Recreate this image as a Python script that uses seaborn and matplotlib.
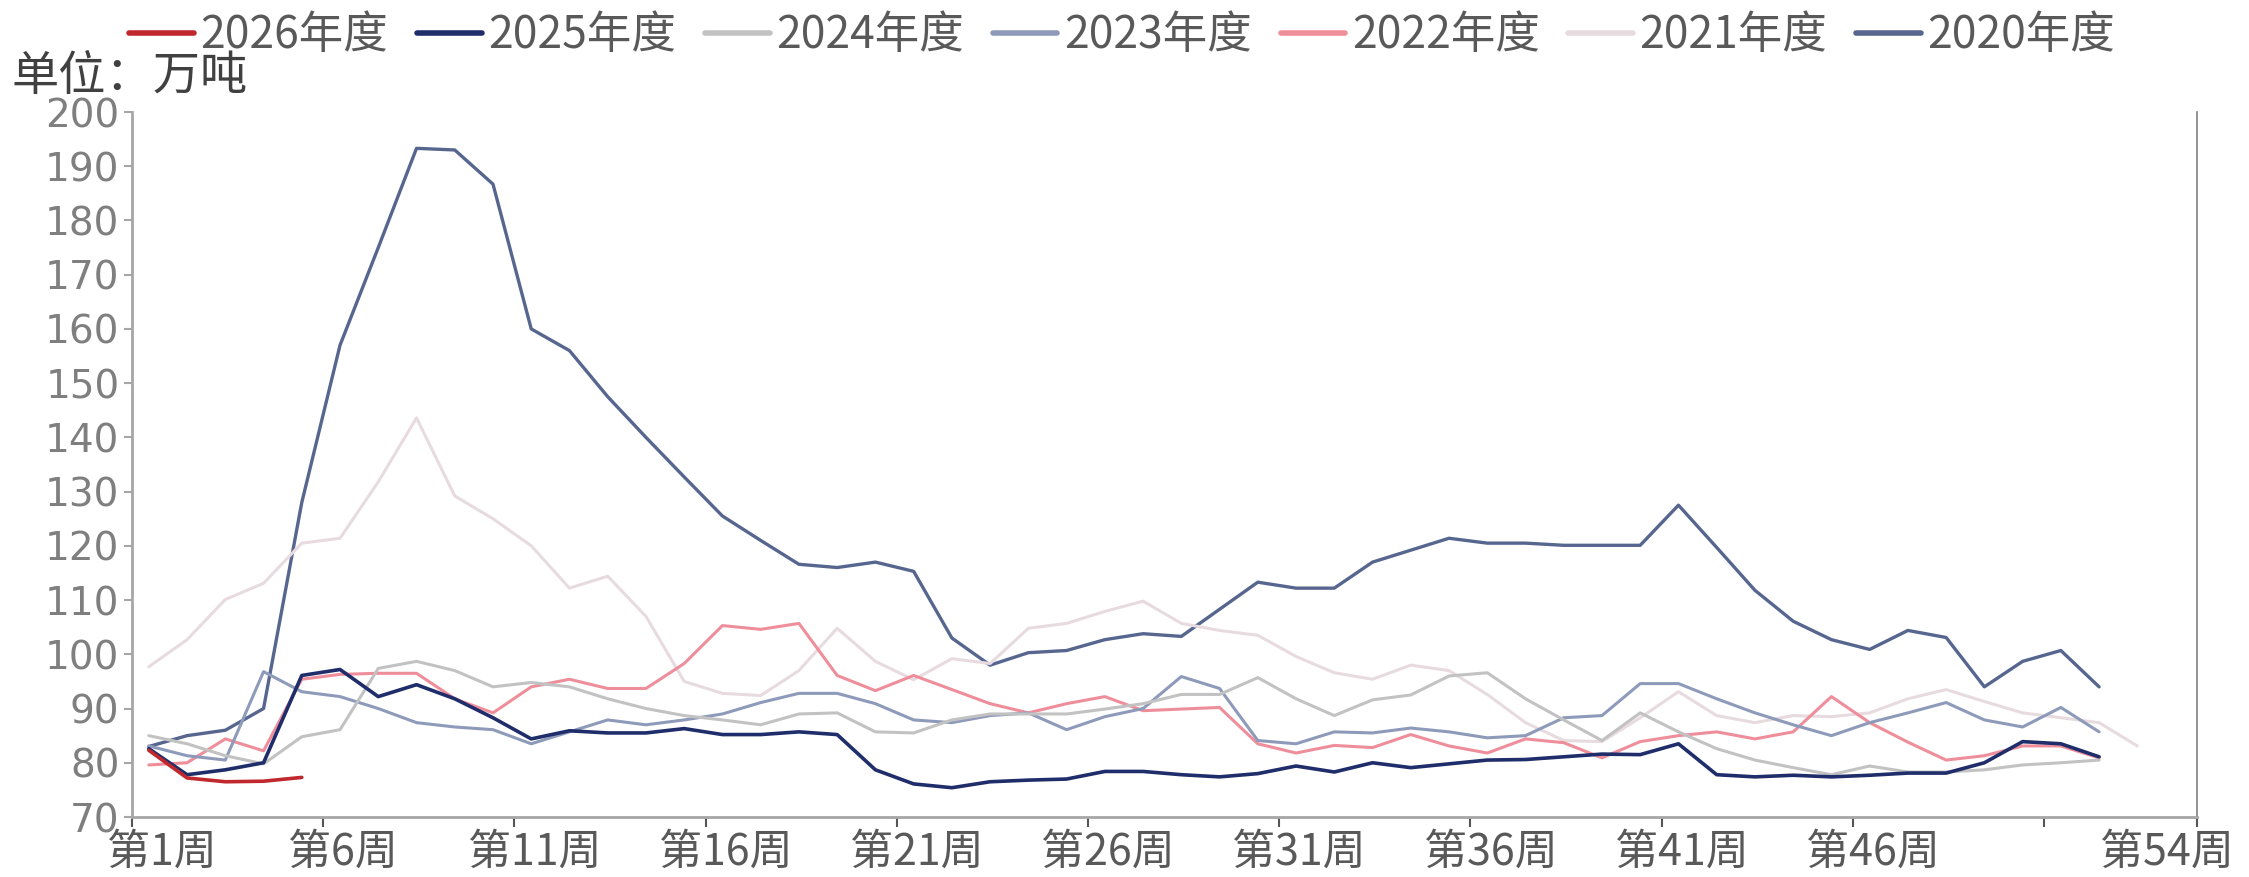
import matplotlib
matplotlib.use("Agg")
import matplotlib.pyplot as plt
import matplotlib.transforms as mtransforms
import numpy as np
import pandas as pd
import seaborn as sns

# weekly values, unit: 万吨
y2020 = [83, 85, 86, 90, 128, 157, 175, 193.3, 193, 186.7, 160, 156, 147.5, 140, 132.7, 125.5,
         121, 116.6, 116, 117, 115.3, 103, 98, 100.3, 100.7, 102.7, 103.8, 103.3, 108.3, 113.3,
         112.2, 112.2, 117, 119.2, 121.4, 120.5, 120.5, 120.1, 120.1, 120.1, 127.5, 119.7, 111.8,
         106.1, 102.7, 100.9, 104.4, 103.1, 94, 98.7, 100.7, 94]
y2021 = [97.7, 102.7, 110.1, 113.1, 120.5, 121.4, 131.8, 143.6, 129.2, 125, 120, 112.2, 114.4,
         107, 95, 92.8, 92.4, 97, 104.8, 98.7, 95.3, 99.2, 98.3, 104.8, 105.7, 107.9, 109.8, 105.7,
         104.4, 103.5, 99.6, 96.6, 95.4, 98, 97, 92.6, 87.4, 84.1, 83.9, 88.3, 93.1, 88.7, 87.4,
         88.7, 88.5, 89.2, 91.8, 93.5, 91.3, 89.2, 88.3, 87.4, 83.1]
y2022 = [79.6, 80, 84.4, 82.2, 95.4, 96.3, 96.5, 96.5, 91.8, 89.2, 94, 95.4, 93.7, 93.7, 98.3,
         105.3, 104.6, 105.7, 96.1, 93.3, 96.1, 93.5, 90.9, 89.2, 90.9, 92.2, 89.6, 89.9, 90.2,
         83.5, 81.8, 83.2, 82.8, 85.2, 83.1, 81.8, 84.4, 83.7, 80.9, 83.9, 85, 85.7, 84.4, 85.7,
         92.2, 87.4, 83.8, 80.5, 81.3, 83.1, 83.1, 80.9]
y2023 = [83.1, 81.3, 80.5, 96.8, 93.1, 92.2, 90, 87.4, 86.6, 86.1, 83.5, 85.7, 87.9, 87, 87.9,
         89, 91.1, 92.8, 92.8, 90.9, 87.9, 87.4, 88.7, 89.2, 86.1, 88.5, 90, 95.9, 93.7, 84.1,
         83.5, 85.7, 85.5, 86.4, 85.7, 84.6, 85, 88.3, 88.7, 94.6, 94.6, 91.8, 89.2, 87, 85,
         87.4, 89.2, 91.1, 87.9, 86.6, 90.2, 85.7]
y2024 = [85, 83.5, 81.3, 79.8, 84.8, 86.1, 97.4, 98.7, 97, 94, 94.8, 94, 91.8, 90, 88.7, 87.9,
         87, 89, 89.2, 85.7, 85.5, 87.9, 89, 89, 89, 89.9, 90.9, 92.6, 92.6, 95.7, 91.8, 88.7,
         91.6, 92.5, 96, 96.6, 91.8, 87.9, 84.1, 89.2, 85.7, 82.6, 80.5, 79.1, 77.8, 79.4, 78.3,
         78.3, 78.7, 79.6, 80, 80.5]
y2025 = [82.6, 77.8, 78.7, 80, 96.1, 97.2, 92.2, 94.4, 91.8, 88.3, 84.4, 85.9, 85.5, 85.5, 86.3,
         85.2, 85.2, 85.7, 85.2, 78.7, 76.1, 75.4, 76.5, 76.8, 77, 78.4, 78.4, 77.8, 77.4, 78,
         79.4, 78.3, 80, 79.1, 79.8, 80.5, 80.6, 81.1, 81.6, 81.5, 83.5, 77.8, 77.4, 77.7, 77.4,
         77.7, 78.1, 78.1, 80, 83.9, 83.5, 81.1]
y2026 = [82.3, 77.2, 76.5, 76.6, 77.3]

series_names = ["2026年度", "2025年度", "2024年度", "2023年度", "2022年度", "2021年度", "2020年度"]
series_values = [y2026, y2025, y2024, y2023, y2022, y2021, y2020]
series_colors = ["#c0282e", "#1f2d6b", "#c2c2c2", "#8e9aba", "#ef8e9b", "#e8dbdf", "#56668f"]
series_widths = [2.6, 2.6, 2.2, 2.2, 2.2, 2.2, 2.4]

x_tick_labels = ["第1周", "第6周", "第11周", "第16周", "第21周", "第26周", "第31周",
                 "第36周", "第41周", "第46周", "", "第54周"]
y_ticks = list(range(70, 201, 10))

sns.set_style("white")
plt.rcParams["font.family"] = ["Noto Sans CJK SC", "DejaVu Sans"]

W, H = 2249, 877
fig = plt.figure(figsize=(W / 100, H / 100), dpi=100)
ax = fig.add_axes([132 / W, 1 - 817 / H, (2197 - 132) / W, (817 - 112) / H])

# draw oldest first so the current season sits on top
for name, vals, col, lw in reversed(list(zip(series_names, series_values, series_colors, series_widths))):
    df = pd.DataFrame({"week": np.arange(1, len(vals) + 1), "value": vals})
    sns.lineplot(data=df, x="week", y="value", ax=ax, color=col, lw=lw, label=name,
                 solid_joinstyle="round", solid_capstyle="round")

if ax.get_legend() is not None:
    ax.get_legend().remove()

ax.set_ylim(70, 200)
ax.set_yticks(y_ticks)
ax.set_xlim(0.56, 54.56)
ax.set_xticks([0.56 + 5 * k for k in range(11)] + [54.56])
ax.set_xticklabels(x_tick_labels)
ax.set_xlabel("")
ax.set_ylabel("")

for side in ["left", "bottom"]:
    ax.spines[side].set_color("#a6a6a6")
    ax.spines[side].set_linewidth(2)
ax.spines["right"].set_color("#808080")
ax.spines["right"].set_linewidth(1.2)
ax.spines["top"].set_visible(False)

ax.tick_params(axis="y", direction="out", length=6, width=1.5, color="#a6a6a6",
               labelsize=28, labelcolor="#7f7f7f", pad=3, left=True,
               labelfontfamily="DejaVu Sans")
ax.tick_params(axis="x", direction="out", length=7, width=1.5, color="#555555",
               labelsize=31, labelcolor="#595959", pad=3, bottom=True)

fig.canvas.draw()
labels = ax.get_xticklabels()
shift = mtransforms.ScaledTranslation(0.2, 0, fig.dpi_scale_trans)
for lbl in labels[1:-1]:
    lbl.set_transform(lbl.get_transform() + shift)
labels[0].set_transform(labels[0].get_transform() + mtransforms.ScaledTranslation(0.3, 0, fig.dpi_scale_trans))
labels[-1].set_transform(labels[-1].get_transform() + mtransforms.ScaledTranslation(-0.3, 0, fig.dpi_scale_trans))

handles, labs = ax.get_legend_handles_labels()
order = [labs.index(n) for n in series_names]
leg = fig.legend([handles[i] for i in order], [labs[i] for i in order], loc="center",
                 bbox_to_anchor=(0.499, 0.96), ncol=7, frameon=False, fontsize=32,
                 handlelength=1.45, handletextpad=0.15, columnspacing=0.65, labelcolor="#595959")
for ln in leg.get_lines():
    ln.set_linewidth(4)

fig.text(0.005, 0.912, "单位：万吨", fontsize=34, color="#404040", ha="left", va="center")

fig.savefig("out.png", dpi=100)
